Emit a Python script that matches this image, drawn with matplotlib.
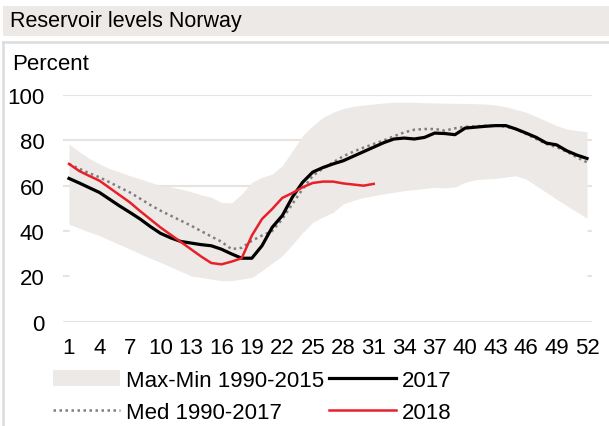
import numpy as np
import matplotlib.pyplot as plt
from matplotlib.patches import Rectangle
from matplotlib.lines import Line2D

plt.rcParams['font.family'] = ['Liberation Sans', 'DejaVu Sans']

# weekly reservoir filling, percent
weeks = list(range(1, 53))
band_max = [78.4, 75, 72, 69.6, 67.5, 66, 64.4, 63, 61.5, 60, 59.5, 58.5, 57.4, 56, 54.9, 52.6,
            52.4, 56.3, 61.5, 63.7, 65.1, 68.8, 75.4, 82, 86.5, 90.1, 92.4, 94, 95, 95.6, 96, 96.5,
            96.8, 96.8, 96.8, 96.6, 96.5, 96.4, 96.3, 96.3, 96.2, 96, 95.6, 94.8, 93.6, 92.4,
            90.5, 88.5, 86.5, 85, 84.3, 83.8]
band_min = [43, 41.3, 39.6, 38, 36, 34, 32, 30, 28, 26.2, 24.2, 22.2, 20.3, 19.5, 18.8, 18.1,
            18.1, 18.8, 19.6, 22.5, 25.8, 29.1, 34, 39.4, 43.8, 46.2, 48.2, 52, 53.5, 54.8, 55.6,
            56.4, 57.1, 57.8, 58.3, 58.8, 59.3, 59, 59.5, 61.5, 62.6, 63, 63.2, 63.8, 64.4, 62.9,
            60, 57, 54, 51.2, 48.4, 45.6]
median = [69.6, 67.5, 65.5, 63.7, 61.5, 59.2, 57, 54.3, 51.5, 49, 46.8, 44.6, 42.4, 40, 37.6,
          35.3, 32, 32.6, 35.7, 38, 40, 45.3, 52, 58.5, 64.4, 67.6, 70.3, 73, 75, 76.8, 78.4, 80,
          81.8, 83.5, 84.7, 85, 85, 84.3, 85.3, 86, 86.2, 86.4, 86.5, 86, 85, 82.8, 80.6, 78.4,
          77, 75, 72.5, 70.3]
y2017 = [63.2, 61.2, 59.1, 57, 54, 51, 48.2, 45.3, 42, 39, 37, 35.4, 34.7, 34, 33.5, 32, 29.9,
         28, 28, 33.5, 41.6, 46.8, 55, 61.5, 66, 68, 69.6, 71, 73, 75, 77, 79, 80.6, 81, 80.6,
         81.3, 83.2, 83, 82.5, 85.4, 85.8, 86.2, 86.5, 86.5, 85, 83.2, 81.3, 78.8, 78, 75.4,
         73.5, 72]
weeks_2018 = list(range(1, 32))
y2018 = [69.6, 66.5, 64.3, 62.2, 59, 55.8, 52.6, 48.8, 45.2, 41.6, 38.4, 35.2, 32, 28.8, 25.9,
         25.3, 26.5, 28, 38, 45.3, 49.7, 54.6, 56.8, 59.3, 61.2, 61.8, 61.8, 61, 60.5, 60, 60.8]

band_col = '#EDE9E6'
grid_col = '#E8E3DF'

fig = plt.figure(figsize=(6.09, 4.27), dpi=100)
W, H = 609, 427

# title bar and panel frame
fig.patches.append(Rectangle((3 / W, 1 - 37 / H), 606 / W, 30 / H, transform=fig.transFigure,
                             facecolor=band_col, edgecolor='none'))
fig.text(10 / W, 1 - 22 / H, 'Reservoir levels Norway', fontsize=15.5, va='center', ha='left')
fig.lines.append(Line2D([3 / W, 608 / W], [1 - 43 / H, 1 - 43 / H], transform=fig.transFigure,
                        color='#DCDCDC', lw=1.8))
fig.lines.append(Line2D([3 / W, 3 / W], [1 - 43 / H, 0], transform=fig.transFigure,
                        color='#DCDCDC', lw=1.8))
fig.text(12 / W, 1 - 65 / H, 'Percent', fontsize=16, va='center', ha='left')

ax = fig.add_axes([62.7 / W, 1 - 322.7 / H, 529 / W, 226.7 / H])
ax.set_axisbelow(True)
ax.yaxis.grid(True, color=grid_col, lw=1.5, zorder=0)

# white fill under the band hides the gridlines, as in the original
ax.fill_between(weeks, 0, band_min, color='white', lw=0, zorder=1)
ax.fill_between(weeks, band_min, band_max, color=band_col, lw=0, zorder=1,
                label='Max-Min 1990-2015')
ax.axhline(0, color=grid_col, lw=1.5, zorder=1.5)
ax.plot(weeks, median, color='#7F7F7F', lw=1.8, linestyle=(0, (1, 1.4)), zorder=2,
        label='Med 1990-2017')
ax.plot(weeks, y2017, color='black', lw=2.3, zorder=3, label='2017')
ax.plot(weeks_2018, y2018, color='#E8202A', lw=1.8, zorder=4, label='2018')

ax.set_xlim(0.38, 52.46)
ax.set_ylim(0, 100)
ax.set_yticks(range(0, 101, 20))
ax.set_xticks(range(1, 53, 3))
ax.tick_params(axis='both', length=0, labelsize=16)
ax.tick_params(axis='y', pad=13)
ax.tick_params(axis='x', pad=11)
for s in ax.spines.values():
    s.set_visible(False)

handles, labels = ax.get_legend_handles_labels()
fig.legend(handles, labels, ncol=2,
           loc='upper left', bbox_to_anchor=(53 / W, 1 - 371 / H), frameon=False,
           fontsize=16, handlelength=3.0, handletextpad=0.3, columnspacing=0.2,
           labelspacing=0.5, borderpad=0, borderaxespad=0)

fig.savefig('out.png', dpi=100)
